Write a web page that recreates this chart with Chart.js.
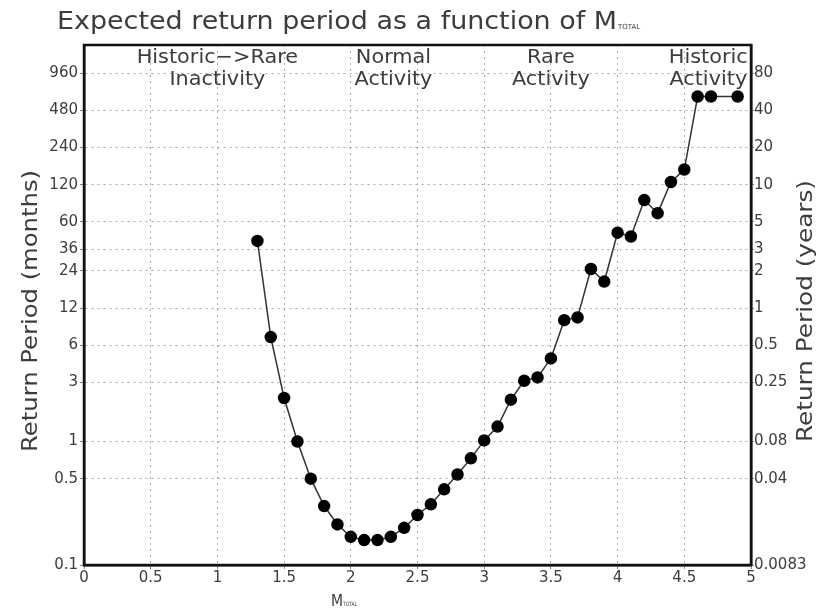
<!DOCTYPE html>
<html>
<head>
<meta charset="utf-8">
<script src="https://cdn.jsdelivr.net/npm/chart.js@4/dist/chart.umd.min.js"></script>
<style>
  html, body { margin: 0; padding: 0; background: #fff; }
  #wrap { width: 822px; height: 611px; }
</style>
</head>
<body>
<div id="wrap"><canvas id="myChart" width="822" height="611"></canvas></div>
<script>
// data
var mTotal = [1.3, 1.4, 1.5, 1.6, 1.7, 1.8, 1.9, 2.0, 2.1, 2.2, 2.3, 2.4, 2.5, 2.6, 2.7, 2.8, 2.9,
              3.0, 3.1, 3.2, 3.3, 3.4, 3.5, 3.6, 3.7, 3.8, 3.9, 4.0, 4.1, 4.2, 4.3, 4.4, 4.5, 4.6, 4.7, 4.9];
var returnMonths = [42, 7.0, 2.25, 1.0, 0.5, 0.30, 0.213, 0.169, 0.159, 0.159, 0.169, 0.2, 0.254, 0.31, 0.41, 0.54, 0.73,
                    1.02, 1.32, 2.18, 3.1, 3.3, 4.7, 9.6, 10.1, 24.9, 19.7, 49, 45.6, 90, 70.5, 126, 159, 620, 620, 620];

// tick values (months) and their labels on both sides
var monthTicks = [0.1, 0.5, 1, 3, 6, 12, 24, 36, 60, 120, 240, 480, 960];
var monthLabels = ['0.1', '0.5', '1', '3', '6', '12', '24', '36', '60', '120', '240', '480', '960'];
var yearLabels = ['0.0083', '0.04', '0.08', '0.25', '0.5', '1', '2', '3', '5', '10', '20', '40', '80'];

// regime labels along the top
var regimeX = [1.0, 2.32, 3.5, 4.68];
var regimeLine1 = ['Historic\u2212>Rare', 'Normal', 'Rare', 'Historic'];
var regimeLine2 = ['Inactivity', 'Activity', 'Activity', 'Activity'];

var textColor = '#3c3c3c';
var fontName = '"DejaVu Sans", sans-serif';

// draw text squeezed/stretched to a given width
function fitText(ctx, text, x, y, width) {
    var w = ctx.measureText(text).width;
    ctx.save();
    ctx.translate(x, y);
    ctx.scale(width / w, 1);
    ctx.fillText(text, 0, 0);
    ctx.restore();
}

var extras = {
    id: 'extras',
    afterDraw: function(chart) {
        var ctx = chart.ctx;
        var a = chart.chartArea;
        var xs = chart.scales.x;
        ctx.save();
        // frame
        ctx.setLineDash([]);
        ctx.strokeStyle = '#111';
        ctx.lineWidth = 2.5;
        ctx.strokeRect(a.left, a.top, a.right - a.left, a.bottom - a.top);

        ctx.fillStyle = textColor;
        ctx.textAlign = 'left';
        ctx.textBaseline = 'alphabetic';

        // title
        ctx.font = '25px ' + fontName;
        fitText(ctx, 'Expected return period as a function of M', 57, 29, 560);
        ctx.font = '7px ' + fontName;
        fitText(ctx, 'TOTAL', 618, 29, 22);

        // x axis title
        ctx.font = '15px ' + fontName;
        fitText(ctx, 'M', 331, 606, 12);
        ctx.font = '6px ' + fontName;
        fitText(ctx, 'TOTAL', 343, 606, 14);

        // left axis title
        ctx.save();
        ctx.translate(37, 452);
        ctx.rotate(-Math.PI / 2);
        ctx.font = '21px ' + fontName;
        fitText(ctx, 'Return Period (months)', 0, 0, 282);
        ctx.restore();

        // right axis title
        ctx.save();
        ctx.translate(812, 442);
        ctx.rotate(-Math.PI / 2);
        ctx.font = '21px ' + fontName;
        fitText(ctx, 'Return Period (years)', 0, 0, 262);
        ctx.restore();

        // regime labels
        ctx.font = '20px ' + fontName;
        for (var i = 0; i < regimeX.length; i++) {
            var px = xs.getPixelForValue(regimeX[i]);
            var t1 = regimeLine1[i], t2 = regimeLine2[i];
            var w1 = ctx.measureText(t1).width * 1.04;
            var w2 = ctx.measureText(t2).width * 1.04;
            fitText(ctx, t1, px - w1 / 2, 63, w1);
            fitText(ctx, t2, px - w2 / 2, 85, w2);
        }
        ctx.restore();
    }
};

var points = mTotal.map(function(m, i) { return { x: m, y: returnMonths[i] }; });

var ctx = document.getElementById('myChart').getContext('2d');
var myChart = new Chart(ctx, {
    type: 'scatter',
    data: {
        datasets: [{
            data: points,
            showLine: true,
            borderColor: '#333',
            borderWidth: 1.5,
            backgroundColor: '#000',
            pointBackgroundColor: '#000',
            pointBorderColor: '#000',
            pointRadius: 5.5,
            yAxisID: 'y'
        }]
    },
    options: {
        responsive: false,
        animation: false,
        layout: { padding: { top: 45, left: 0, right: 0, bottom: 0 } },
        plugins: {
            legend: { display: false },
            tooltip: { enabled: false }
        },
        scales: {
            x: {
                type: 'linear',
                min: 0,
                max: 5,
                ticks: {
                    stepSize: 0.5,
                    color: textColor,
                    font: { family: fontName, size: 15 },
                    padding: 0,
                    maxRotation: 0,
                    callback: function(v) { return String(v); }
                },
                grid: { color: '#a8a8a8', lineWidth: 1, tickLength: 4, tickColor: '#888' },
                border: { display: true, color: '#111', width: 2.5, dash: [2, 4] },
                afterFit: function(s) { s.height = 46; }
            },
            y: {
                type: 'logarithmic',
                position: 'left',
                min: 0.1,
                max: 1620,
                afterBuildTicks: function(s) {
                    s.ticks = monthTicks.map(function(v) { return { value: v }; });
                },
                ticks: {
                    autoSkip: false,
                    color: textColor,
                    font: { family: fontName, size: 15 },
                    padding: 2,
                    callback: function(v, i) { return monthLabels[i]; }
                },
                grid: { color: '#a8a8a8', lineWidth: 1, tickLength: 4, tickColor: '#888' },
                border: { display: true, color: '#111', width: 2.5, dash: [2, 4] },
                afterFit: function(s) { s.width = 84; }
            },
            y2: {
                type: 'logarithmic',
                position: 'right',
                min: 0.1,
                max: 1620,
                afterBuildTicks: function(s) {
                    s.ticks = monthTicks.map(function(v) { return { value: v }; });
                },
                ticks: {
                    autoSkip: false,
                    color: textColor,
                    font: { family: fontName, size: 15 },
                    padding: 0,
                    callback: function(v, i) { return yearLabels[i]; }
                },
                grid: { drawOnChartArea: false, tickLength: 3, tickColor: '#888' },
                border: { display: true, color: '#111', width: 2.5 },
                afterFit: function(s) { s.width = 71; }
            }
        }
    },
    plugins: [extras]
});
</script>
</body>
</html>
